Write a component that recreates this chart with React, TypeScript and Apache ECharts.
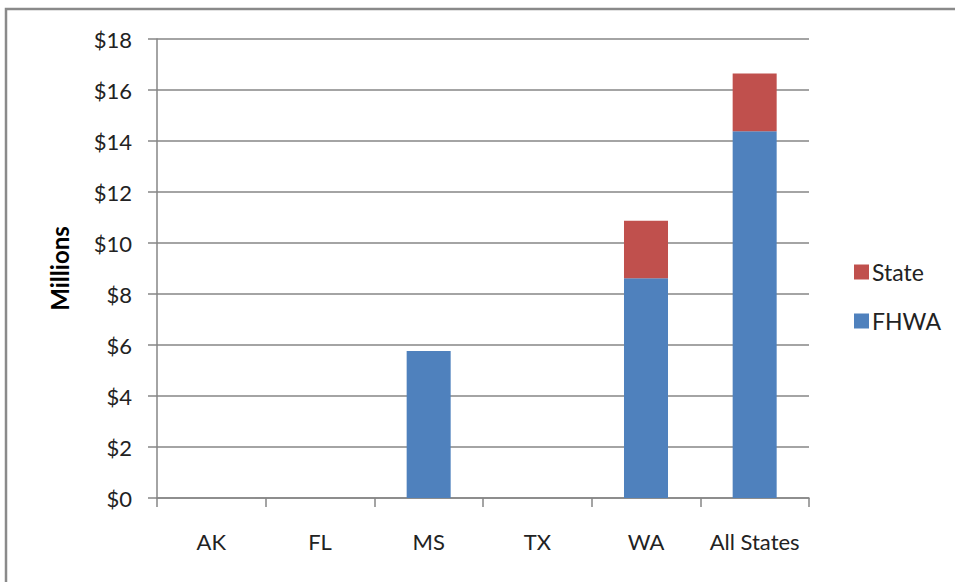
import React, { useEffect, useRef } from "react";
import * as echarts from "echarts";

const categories = ["AK", "FL", "MS", "TX", "WA", "All States"];
const fhwaValues = [0, 0, 5.76, 0, 8.62, 14.38];
const stateValues = [0, 0, 0, 0, 2.25, 2.27];
const yTicks = [0, 2, 4, 6, 8, 10, 12, 14, 16, 18];

const FONT = "Lato, 'Open Sans', sans-serif";

export default function App() {
  const ref = useRef<HTMLDivElement>(null);
  useEffect(() => {
    if (!ref.current) return;
    const chart = echarts.init(ref.current, undefined, { renderer: "svg" });
    chart.setOption({
      animation: false,
      backgroundColor: "#ffffff",
      textStyle: { fontFamily: FONT },
      grid: { left: 157, top: 39, right: 146, bottom: 84, containLabel: false },
      legend: {
        orient: "vertical",
        left: 849,
        top: 255,
        itemWidth: 15,
        itemHeight: 15,
        itemGap: 25,
        icon: "rect",
        data: ["State", "FHWA"],
        textStyle: { fontSize: 23, lineHeight: 24, color: "#222", fontFamily: FONT, padding: [0, 0, 0, -2] },
      },
      xAxis: {
        type: "category",
        data: categories,
        axisLine: { lineStyle: { color: "#868686", width: 1.5 } },
        axisTick: { show: true, interval: 0, length: 9, alignWithLabel: false, lineStyle: { color: "#868686", width: 1.5 } },
        axisLabel: { interval: 0, fontSize: 22, color: "#222", margin: 32, fontFamily: FONT },
      },
      yAxis: {
        type: "value",
        min: yTicks[0],
        max: yTicks[yTicks.length - 1],
        interval: 2,
        name: "Millions",
        nameLocation: "middle",
        nameGap: 86,
        nameTextStyle: { fontSize: 24, fontWeight: "bold", color: "#000", fontFamily: FONT },
        axisLine: { show: true, lineStyle: { color: "#868686", width: 1.5 } },
        axisTick: { show: true, length: 9, lineStyle: { color: "#868686", width: 1.5 } },
        axisLabel: { fontSize: 22, color: "#222", margin: 25, fontFamily: FONT, formatter: (v: number) => "$" + v },
        splitLine: { show: true, lineStyle: { color: "#868686", width: 1.5 } },
      },
      series: [
        {
          name: "FHWA",
          type: "bar",
          stack: "total",
          data: fhwaValues,
          barWidth: "40.5%",
          itemStyle: { color: "#4F81BD" },
        },
        {
          name: "State",
          type: "bar",
          stack: "total",
          data: stateValues,
          barWidth: "40.5%",
          itemStyle: { color: "#C0504D" },
        },
      ],
      graphic: [
        {
          type: "polyline",
          shape: { points: [[6, 582], [6, 9], [955, 9]] },
          style: { stroke: "#8a8a8a", lineWidth: 2.5, fill: "none" },
          silent: true,
        },
      ],
    });
    return () => chart.dispose();
  }, []);
  return <div ref={ref} style={{ width: 955, height: 582, position: "absolute", left: 0, top: 0 }} />;
}
